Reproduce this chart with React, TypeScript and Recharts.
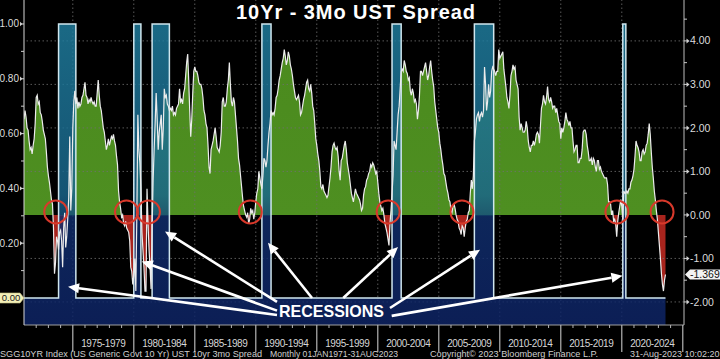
import React from 'react';
import { ComposedChart, Area, Line, XAxis, YAxis, ReferenceLine, ReferenceDot } from 'recharts';

const FONT = "'Liberation Sans', Arial, sans-serif";

// UST 10yr - 3mo spread (%), monthly from Jan 1971
const START_YEAR = 1971;
const spread1970s = [
  2.2, 2.4, 2.25, 2.0, 1.95, 1.7, 1.5, 1.55, 1.4, 1.6, 1.75, 2.1,
  2.7, 2.75, 2.55, 2.6, 2.35, 2.3, 2.15, 1.95, 1.85, 1.75, 1.45, 1.1,
  0.9, 0.75, 0.55, 0.35, 0.25, -0.3, -1.35, -1.1, -0.5, -0.6, -0.8, -0.4,
  -0.35, -0.6, -1.2, -0.3, 0.05, -0.75, -0.5, -0.1, 0.4, 1.8, 0.1, 0.6,
  2.0, 2.6, 2.85, 2.55, 2.7, 2.45, 2.6, 2.5, 2.55, 2.7, 2.75, 2.9,
  3.05, 2.75, 2.7, 2.55, 2.65, 2.6, 2.7, 2.6, 2.55, 2.6, 2.5, 2.5,
  2.8, 3.1, 2.75, 2.5, 2.4, 2.2, 2.0, 1.9, 1.7, 1.5, 1.6, 1.75,
  1.6, 1.7, 1.8, 1.75, 1.85, 1.7, 1.6, 1.35, 1.15, 0.55, 0.3, 0.15,
  -0.05, 0.0, -0.2, -0.25, -0.15, -0.3, -0.35, -0.4, -0.6, -1.2, -1.3, -1.6,
];
const spread1980s = [
  -1.4, -1.0, -1.75, 0.0, 2.3, 1.5, 1.2, 0.6, -0.4, -0.8, -1.2, -1.75,
  -1.75, 0.6, -0.2, -0.8, -1.2, -1.7, -0.3, 0.8, 1.5, 2.1, 2.8, 2.2,
  1.5, 1.9, 2.1, 2.3, 1.5, 2.0, 2.9, 2.7, 2.75, 2.55, 2.5, 2.4,
  2.45, 2.4, 2.5, 2.3, 2.35, 2.3, 2.45, 2.5, 2.55, 2.9, 2.6, 2.65,
  2.55, 2.8, 2.9, 3.2, 3.5, 3.7, 3.1, 2.4, 1.8, 2.2, 2.8, 3.3,
  3.4, 3.3, 3.3, 3.2, 3.05, 3.0, 3.0, 2.9, 2.7, 2.4, 2.3, 2.1,
  2.0, 1.6, 1.1, 0.95, 1.5, 1.6, 1.7, 1.85, 2.0, 1.8, 1.55, 1.5,
  1.45, 1.6, 1.9, 2.6, 2.7, 2.5, 2.5, 2.6, 2.9, 3.1, 3.5, 3.0,
  2.6, 2.5, 2.7, 2.6, 2.3, 2.0, 1.7, 1.3, 1.15, 0.9, 0.65, 0.4,
  0.2, 0.1, 0.0, -0.05, 0.05, -0.2, -0.1, 0.15, 0.05, 0.1, -0.1, 0.05,
];
const spread1990s = [
  0.3, 0.5, 0.6, 1.0, 0.85, 0.7, 0.6, 0.9, 1.3, 1.25, 1.1, 1.25,
  1.6, 1.9, 2.1, 2.4, 2.3, 2.35, 2.3, 2.45, 2.7, 2.75, 2.9, 3.1,
  3.2, 3.35, 3.5, 3.6, 3.8, 3.65, 3.45, 3.55, 3.75, 3.65, 3.45, 3.35,
  3.2, 3.0, 2.85, 2.7, 2.65, 2.7, 2.75, 2.6, 2.3, 2.35, 2.5, 2.65,
  2.75, 2.9, 3.05, 3.1, 2.9, 2.85, 3.0, 2.8, 2.5, 2.4, 2.1, 1.75,
  1.6, 1.4, 1.25, 1.0, 0.65, 0.6, 0.7, 0.55, 0.5, 0.45, 0.4, 0.45,
  0.65, 0.85, 1.1, 1.45, 1.6, 1.65, 1.55, 1.5, 1.55, 1.35, 1.0, 0.8,
  1.25, 1.3, 1.45, 1.6, 1.7, 1.5, 1.2, 1.05, 0.9, 0.7, 0.5, 0.4,
  0.3, 0.45, 0.6, 0.5, 0.45, 0.4, 0.35, 0.25, 0.1, 0.15, 0.45, 0.6,
  0.65, 0.8, 0.85, 0.95, 1.0, 1.15, 1.1, 1.2, 1.15, 1.05, 0.95, 1.0,
];
const spread2000s = [
  0.75, 0.5, 0.3, 0.2, 0.1, 0.15, 0.0, -0.2, -0.3, -0.4, -0.55, -0.7,
  -0.2, 0.1, 0.5, 0.9, 1.7, 1.6, 1.5, 1.9, 2.3, 2.5, 2.9, 3.3,
  3.35, 3.3, 3.55, 3.45, 3.3, 3.25, 3.1, 3.15, 2.85, 2.75, 2.9, 2.8,
  2.6, 2.65, 2.55, 2.2, 2.4, 2.75, 3.3, 3.3, 3.2, 3.3, 3.4, 3.5,
  3.3, 3.1, 3.2, 3.4, 3.55, 3.3, 3.1, 2.95, 2.6, 2.4, 2.2, 2.0,
  1.9, 1.65, 1.5, 1.3, 1.15, 0.95, 0.9, 0.75, 0.6, 0.5, 0.35, 0.3,
  0.1, 0.05, 0.2, 0.25, 0.15, 0.0, -0.1, -0.15, -0.3, -0.35, -0.45, -0.25,
  -0.3, -0.5, -0.3, -0.15, -0.1, 0.05, 0.1, 0.5, 0.8, 0.6, 0.9, 1.7,
  1.9, 2.2, 2.3, 2.35, 2.15, 2.3, 2.35, 2.25, 2.4, 3.4, 3.0, 2.4,
  2.6, 3.0, 2.7, 2.85, 3.3, 3.4, 3.35, 3.3, 3.2, 3.3, 3.3, 3.8,
];
const spread2010s = [
  3.6, 3.65, 3.7, 3.75, 3.35, 3.15, 2.95, 2.7, 2.6, 2.45, 2.75, 3.2,
  3.3, 3.45, 3.35, 3.4, 3.1, 3.0, 2.9, 2.25, 1.95, 2.1, 2.0, 1.9,
  1.9, 1.95, 2.15, 2.0, 1.7, 1.55, 1.45, 1.6, 1.6, 1.7, 1.6, 1.7,
  1.85, 1.9, 1.85, 1.65, 2.05, 2.45, 2.55, 2.75, 2.6, 2.55, 2.7, 2.95,
  2.65, 2.6, 2.7, 2.6, 2.45, 2.5, 2.5, 2.35, 2.45, 2.3, 2.15, 2.1,
  1.75, 2.0, 1.9, 2.0, 2.15, 2.35, 2.2, 2.15, 2.05, 2.15, 2.0, 2.0,
  1.7, 1.45, 1.5, 1.6, 1.6, 1.2, 1.2, 1.3, 1.3, 1.5, 1.9, 1.95,
  1.95, 1.85, 1.6, 1.45, 1.25, 1.25, 1.3, 1.15, 1.3, 1.25, 1.1, 1.0,
  1.25, 1.25, 1.05, 1.1, 1.0, 0.95, 0.9, 0.85, 0.85, 0.85, 0.7, 0.3,
  0.3, 0.25, 0.0, 0.1, -0.15, -0.1, -0.2, -0.5, -0.15, 0.05, 0.2, 0.35,
];
const spread2020s = [
  0.2, -0.1, 0.55, 0.5, 0.5, 0.55, 0.5, 0.6, 0.6, 0.75, 0.8, 0.9,
  1.05, 1.35, 1.7, 1.6, 1.55, 1.45, 1.25, 1.25, 1.45, 1.5, 1.4, 1.45,
  1.6, 1.65, 1.85, 2.1, 1.85, 1.45, 1.1, 0.85, 0.55, 0.35, 0.1, -0.1,
  -0.4, -0.7, -1.0, -1.35, -1.6, -1.75, -1.5, -1.369,
];

// NBER recessions, first and last month
const recessions = [
  ['1973-11', '1975-03'],
  ['1980-01', '1980-07'],
  ['1981-07', '1982-11'],
  ['1990-07', '1991-03'],
  ['2001-03', '2001-11'],
  ['2007-12', '2009-06'],
  ['2020-02', '2020-04'],
];

const periodLabels = [
  '1975-1979', '1980-1984', '1985-1989', '1990-1994', '1995-1999',
  '2000-2004', '2005-2009', '2010-2014', '2015-2019', '2020-2024',
];
const leftTicks = [0, 0.1, 0.2, 0.3, 0.4, 0.5, 0.6, 0.7, 0.8, 0.9, 1.0];
const rightTicks = [-2, -1.5, -1, -0.5, 0, 0.5, 1, 1.5, 2, 2.5, 3, 3.5, 4, 4.5];
const gridValues = [-2, -1, 1, 2, 3, 4];

// inversion markers (year) and arrows [tail, tip] in (year, spread)
const circleYears = [1973.6, 1979.4, 1981.2, 1989.55, 2000.85, 2006.9, 2019.6, 2023.3];
const arrows = [
  [[1991.74, -2.3], [1974.61, -1.65]],
  [[1991.74, -2.2], [1980.65, -1.07]],
  [[1991.74, -2.0], [1982.56, -0.38]],
  [[1994.61, -1.91], [1991.0, -0.64]],
  [[1997.17, -1.91], [2001.66, -0.74]],
  [[2001.0, -2.14], [2008.38, -0.8]],
  [[2001.14, -2.32], [2020.05, -1.4]],
];

const X_DOMAIN = [1971, 2025.1];
const LEFT_DOMAIN = [-0.0985, 1.0875];
const RIGHT_DOMAIN = [-2.53, 4.94];
const PLOT_BOTTOM = 325;
const ZERO_FRAC = RIGHT_DOMAIN[1] / (RIGHT_DOMAIN[1] - RIGHT_DOMAIN[0]);

const spread = [...spread1970s, ...spread1980s, ...spread1990s, ...spread2000s, ...spread2010s, ...spread2020s];
const LAST_VALUE = spread[spread.length - 1];

const monthIndex = (s: string) => {
  const [y, m] = s.split('-').map(Number);
  return (y - START_YEAR) * 12 + (m - 1);
};
const recRanges = recessions.map(([a, b]) => [monthIndex(a), monthIndex(b)]);

const rows = spread.map((v, i) => ({
  t: START_YEAR + i / 12,
  spread: v,
  rec: recRanges.some(([a, b]) => i >= a && i <= b) ? 1 : 0,
}));

const periodMids = periodLabels.map((p) => Number(p.slice(0, 4)) + 2.5);
const yearTicks: number[] = [];
for (let y = 1972; y <= 2025; y++) yearTicks.push(y);
const xTicks = [...yearTicks, ...periodMids];

function XTick(props: any) {
  const { x, y, payload } = props;
  const v = payload.value;
  const pi = periodMids.indexOf(v);
  if (pi >= 0) {
    return (
      <text x={x} y={y + 22} textAnchor="middle" fill="#d6d6d6" fontSize={10} letterSpacing={-0.4} fontFamily={FONT}>
        {periodLabels[pi]}
      </text>
    );
  }
  const major = v % 5 === 0 && v >= 1975;
  return <line x1={x} x2={x} y1={y} y2={y + (major ? 27 : 3)} stroke="#b5b5b5" strokeWidth={major ? 1.2 : 1} />;
}

function LeftTick(props: any) {
  const { x, y, payload } = props;
  const k = Math.round(payload.value * 10);
  if (k === 0) {
    return (
      <g>
        <path d={`M${x - 25},${y - 5} H${x - 4} L${x},${y} L${x - 4},${y + 5} H${x - 25} Z`} fill="#f3efb8" stroke="#c9c384" strokeWidth={0.6} />
        <text x={x - 13} y={y + 3.4} textAnchor="middle" fill="#1a1a1a" fontSize={9.5} fontFamily={FONT}>0.00</text>
      </g>
    );
  }
  if (k % 2 === 1) return <line x1={x - 3} x2={x} y1={y} y2={y} stroke="#c8c8c8" />;
  return (
    <g>
      <line x1={x - 4} x2={x} y1={y} y2={y} stroke="#d0d0d0" />
      <polygon points={`${x - 4},${y - 2.2} ${x - 1.5},${y} ${x - 4},${y + 2.2}`} fill="#d0d0d0" />
      <text x={x - 5} y={y + 3.5} textAnchor="end" fill="#dcdcdc" fontSize={10} fontFamily={FONT}>
        {payload.value.toFixed(2)}
      </text>
    </g>
  );
}

function RightTick(props: any) {
  const { x, y, payload } = props;
  const v = payload.value;
  if (v === LAST_VALUE) {
    return (
      <g>
        <path d={`M${x + 1},${y} L${x + 6},${y - 5} H${722} V${y + 5} H${x + 6} Z`} fill="#f2f2f2" />
        <text x={x + 6} y={y + 3.6} fill="#111" fontSize={10.5} fontFamily={FONT}>{v.toFixed(3)}</text>
      </g>
    );
  }
  if (!Number.isInteger(v)) return <line x1={x} x2={x + 3} y1={y} y2={y} stroke="#c8c8c8" />;
  return (
    <g>
      <line x1={x} x2={x + 3} y1={y} y2={y} stroke="#d0d0d0" />
      <polygon points={`${x + 2.5},${y - 2.5} ${x + 5.5},${y} ${x + 2.5},${y + 2.5}`} fill="#d0d0d0" />
      <text x={x + 6} y={y + 3.6} fill="#dcdcdc" fontSize={10.5} fontFamily={FONT}>{v.toFixed(2)}</text>
    </g>
  );
}

function ArrowShape(props: any) {
  const { x1, y1, x2, y2 } = props;
  const a = Math.atan2(y2 - y1, x2 - x1);
  const len = 11;
  const half = 5;
  const bx = x2 - len * Math.cos(a);
  const by = y2 - len * Math.sin(a);
  const px = -Math.sin(a) * half;
  const py = Math.cos(a) * half;
  return (
    <g>
      <line x1={x1} y1={y1} x2={bx} y2={by} stroke="#ffffff" strokeWidth={2.6} />
      <polygon points={`${x2},${y2} ${bx + px},${by + py} ${bx - px},${by - py}`} fill="#ffffff" />
    </g>
  );
}

export default function App() {
  return (
    <div style={{ position: 'absolute', left: 0, top: 0, width: 720, height: 359, background: '#000', overflow: 'hidden' }}>
      <ComposedChart width={720} height={359} data={rows} margin={{ top: 0, right: 0, bottom: 0, left: 0 }}>
        <defs>
          <linearGradient id="spreadFill" gradientUnits="userSpaceOnUse" x1="0" y1="0" x2="0" y2={PLOT_BOTTOM}>
            <stop offset={0} stopColor="#4a891d" />
            <stop offset={ZERO_FRAC} stopColor="#4e8f21" />
            <stop offset={ZERO_FRAC} stopColor="#a8241d" />
            <stop offset={1} stopColor="#a8241d" />
          </linearGradient>
          <linearGradient id="recFill" gradientUnits="userSpaceOnUse" x1="0" y1="0" x2="0" y2={PLOT_BOTTOM}>
            <stop offset={0.07} stopColor="#1f7d9e" />
            <stop offset={0.6} stopColor="#19658a" />
            <stop offset={ZERO_FRAC} stopColor="#154f7c" />
            <stop offset={ZERO_FRAC + 0.005} stopColor="#102e6c" />
            <stop offset={1} stopColor="#0e2466" />
          </linearGradient>
        </defs>
        <XAxis
          dataKey="t"
          type="number"
          domain={X_DOMAIN}
          allowDataOverflow
          ticks={xTicks}
          interval={0}
          tick={XTick}
          tickLine={false}
          tickSize={0}
          tickMargin={0}
          height={34}
          axisLine={{ stroke: '#a0a0a0' }}
        />
        <YAxis
          yAxisId="rec"
          orientation="left"
          type="number"
          domain={LEFT_DOMAIN}
          allowDataOverflow
          ticks={leftTicks}
          interval={0}
          tick={LeftTick}
          tickLine={false}
          tickSize={0}
          tickMargin={0}
          width={24}
          axisLine={{ stroke: '#d8d8d8' }}
        />
        <YAxis
          yAxisId="spr"
          orientation="right"
          type="number"
          domain={RIGHT_DOMAIN}
          allowDataOverflow
          ticks={[...rightTicks, LAST_VALUE]}
          interval={0}
          tick={RightTick}
          tickLine={false}
          tickSize={0}
          tickMargin={0}
          width={36}
          axisLine={{ stroke: '#bdbdbd' }}
        />
        <Area
          yAxisId="spr"
          dataKey="spread"
          type="linear"
          baseValue={0}
          fill="url(#spreadFill)"
          fillOpacity={1}
          stroke="none"
          isAnimationActive={false}
          activeDot={false}
          zIndex={100}
        />
        {gridValues.map((g) => (
          <ReferenceLine key={`h${g}`} yAxisId="spr" y={g} stroke="#707070" strokeWidth={0.8} strokeDasharray="1.5 2.5" zIndex={110} />
        ))}
        {periodMids.map((m) => (
          <ReferenceLine key={`v${m}`} yAxisId="spr" x={m - 2.5} stroke="#707070" strokeWidth={0.8} strokeDasharray="1.5 2.5" zIndex={110} />
        ))}
        <Area
          yAxisId="rec"
          dataKey="rec"
          type="stepAfter"
          baseValue="dataMin"
          fill="url(#recFill)"
          fillOpacity={0.84}
          stroke="#cfe6ee"
          strokeWidth={1.5}
          isAnimationActive={false}
          activeDot={false}
          zIndex={120}
        />
        <Line
          yAxisId="spr"
          dataKey="spread"
          type="linear"
          stroke="#ececec"
          strokeWidth={1.2}
          dot={false}
          activeDot={false}
          isAnimationActive={false}
          zIndex={400}
        />
        {circleYears.map((c) => (
          <ReferenceDot key={`c${c}`} yAxisId="spr" x={c} y={0.07} r={11.5} fill="none" stroke="#d8392b" strokeWidth={2} zIndex={600} />
        ))}
        {arrows.map(([tail, tip], i) => (
          <ReferenceLine
            key={`a${i}`}
            yAxisId="spr"
            segment={[{ x: tail[0], y: tail[1] }, { x: tip[0], y: tip[1] }]}
            shape={ArrowShape}
            zIndex={610}
          />
        ))}
      </ComposedChart>
      <svg width={720} height={359} style={{ position: 'absolute', left: 0, top: 0, pointerEvents: 'none' }}>
        <text x={355.5} y={19} textAnchor="middle" fill="#ffffff" fontSize={20} fontWeight="bold" fontFamily={FONT} textLength={239} lengthAdjust="spacing">
          10Yr - 3Mo UST Spread
        </text>
        <text x={331.5} y={317} textAnchor="middle" fill="#ffffff" fontSize={17} fontWeight="bold" fontFamily={FONT} textLength={105} lengthAdjust="spacingAndGlyphs">
          RECESSIONS
        </text>
        <g fill="#cfcfcf" fontSize={9} fontFamily={FONT}>
          <text x={0} y={357} textLength={262} lengthAdjust="spacingAndGlyphs">SGG10YR Index (US Generic Govt 10 Yr) UST 10yr 3mo Spread</text>
          <text x={270} y={357} textLength={128} lengthAdjust="spacingAndGlyphs">Monthly 01JAN1971-31AUG2023</text>
          <text x={430} y={357} textLength={168} lengthAdjust="spacingAndGlyphs">Copyright© 2023 Bloomberg Finance L.P.</text>
          <text x={630} y={357}>31-Aug-2023 10:02:20</text>
        </g>
      </svg>
    </div>
  );
}
